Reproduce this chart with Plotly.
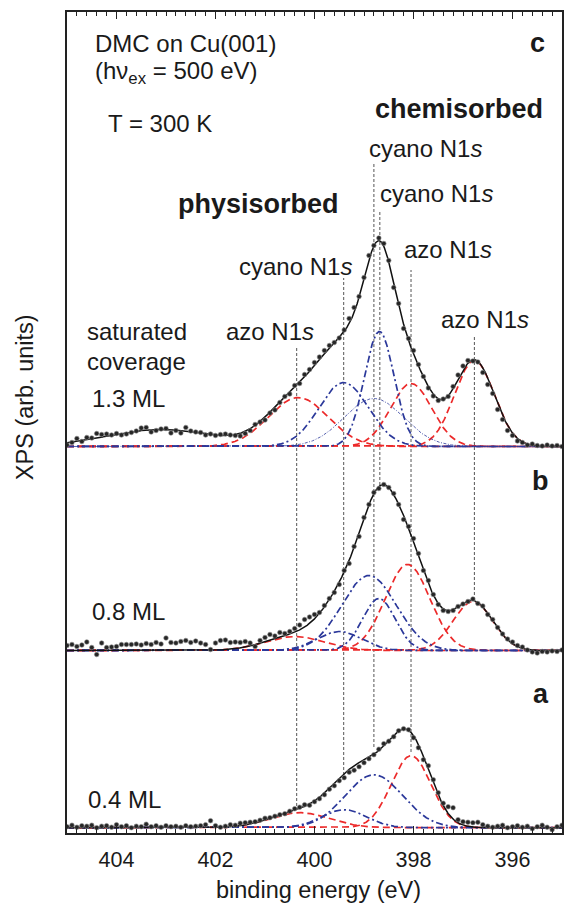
import numpy as np
import plotly.graph_objects as go

# ---------------- data ----------------
# binding energies of the measured points (eV), 0.1 eV steps
be_points = [round(405.0 - 0.1 * i, 1) for i in range(101)]

# measured intensities (arb. units) above each spectrum's baseline
xps_c = [1.5, 4.0, 8.0, 5.0, 9.0, 8.5, 13.0, 12.0, 12.5, 11.5,
         13.0, 11.5, 12.5, 14.0, 15.5, 18.5, 19.0, 14.5, 16.0, 17.5,
         18.0, 13.5, 16.0, 13.5, 19.0, 15.5, 14.5, 14.0, 11.5, 12.5,
         11.0, 12.0, 12.5, 11.5, 11.0, 10.5, 13.0, 16.0, 22.0, 24.5,
         26.5, 33.5, 36.5, 44.0, 50.0, 52.5, 61.0, 63.0, 72.0, 77.0,
         84.0, 89.5, 96.0, 101.0, 104.0, 108.5, 116.5, 128.0, 139.0, 150.0,
         169.0, 191.0, 201.0, 208.5, 203.0, 186.0, 159.0, 143.0, 118.0, 108.0,
         96.0, 82.0, 70.0, 58.5, 50.5, 46.0, 47.5, 50.0, 60.0, 71.5,
         80.5, 86.0, 85.5, 84.5, 74.0, 62.0, 53.0, 37.0, 27.0, 16.0,
         11.0, 5.5, 4.0, 1.5, 2.5, 1.0, 0.5, 1.5, 0.5, 1.0,
         0.0]
xps_b = [5.0, 6.0, 4.0, 5.5, 8.5, 3.0, -4.0, 7.5, 3.0, 3.5,
         4.0, 6.0, 6.0, 6.0, 6.5, 5.5, 7.0, 6.0, 8.0, 6.5,
         12.5, 8.0, 7.5, 9.0, 10.0, 8.0, 9.5, 7.5, 6.0, 1.0,
         7.5, 10.0, 10.5, 8.0, 8.5, 8.0, 9.0, 7.5, 4.0, 10.0,
         13.0, 16.0, 14.5, 18.0, 17.0, 19.0, 22.0, 25.5, 31.0, 33.5,
         36.0, 38.0, 45.0, 52.0, 58.0, 66.0, 80.0, 87.0, 104.0, 114.0,
         133.0, 146.0, 158.0, 162.0, 166.0, 163.0, 157.0, 146.0, 131.0, 124.0,
         112.0, 97.0, 80.0, 70.0, 56.0, 46.0, 40.0, 39.0, 40.0, 44.0,
         46.5, 49.0, 51.5, 47.0, 44.5, 36.0, 31.0, 23.0, 16.5, 11.5,
         8.5, 5.0, 3.5, 0.5, -1.5, -2.5, -1.0, -1.5, -0.5, -1.0,
         0.5]
xps_a = [1.0, 2.5, 0.5, 2.0, 1.5, 2.5, 0.0, 1.5, 2.0, 0.5,
         3.0, 1.0, 2.0, 0.0, 1.5, 1.0, 3.5, 1.0, 2.0, 0.5,
         2.0, 1.0, 1.5, 0.5, 2.0, 1.0, 1.5, 2.0, 3.0, 7.0,
         2.0, 0.5, 1.5, 3.0, 2.5, 4.5, 5.0, 5.5, 6.0, 7.5,
         9.5, 10.0, 11.5, 13.0, 14.0, 16.5, 19.0, 20.5, 23.0, 22.5,
         26.0, 29.0, 33.0, 38.5, 42.0, 47.0, 50.0, 55.5, 57.5, 61.0,
         65.0, 69.0, 73.0, 78.5, 84.0, 86.5, 91.0, 97.0, 99.0, 98.0,
         90.0, 80.0, 68.0, 62.0, 48.0, 35.0, 24.5, 21.0, 20.0, 8.0,
         6.0, 5.5, 5.0, 5.5, 3.0, 1.5, 0.5, 1.5, 2.5, 0.0,
         1.0, 2.0, 0.5, 1.5, -1.0, 1.0, 2.5, 0.5, -2.0, 1.0,
         2.5]

# fitted peak components: centre (eV), height, gaussian sigma (eV), species
c_centers = [400.33, 399.41, 398.69, 398.80, 398.05, 396.77]
c_heights = [49, 64, 115, 48, 63, 86]
c_sigmas = [0.60, 0.50, 0.30, 0.60, 0.42, 0.40]
c_kinds = ["azo", "cyano", "cyano", "cyano_thin", "azo", "azo"]
c_background = [403.1, 17, 1.1]   # broad background included in the total fit only

b_centers = [400.40, 399.50, 398.90, 398.70, 398.12, 396.80]
b_heights = [14, 19, 75, 52, 86, 49]
b_sigmas = [0.60, 0.45, 0.55, 0.33, 0.45, 0.40]
b_kinds = ["azo", "cyano", "cyano", "cyano", "azo", "azo"]

a_centers = [400.30, 399.40, 398.80, 398.05]
a_heights = [15, 18, 53, 72]
a_sigmas = [0.60, 0.45, 0.58, 0.40]
a_kinds = ["azo", "cyano", "cyano", "azo"]

# peak-position marker lines (eV)
marker_be = [400.36, 399.41, 398.80, 398.68, 398.05, 396.77]

coverage_labels = ["1.3 ML", "0.8 ML", "0.4 ML"]
panel_letters = ["c", "b", "a"]
tick_values = [404, 402, 400, 398, 396]

# ---------------- layout helpers (pixel geometry) ----------------
W, H = 565, 905
L, R, T, B = 67, 564, 12, 833
YMAX = B - T
offsets = {"c": B - 446.5, "b": B - 650.5, "a": B - 827.7}

def ypx(y):
    return B - y

def xp(x):
    return (x - L) / (R - L)

def yp(y):
    return (B - y) / (B - T)

RED = "#ec2a2a"
BLUE = "#2b389a"
FONT = "Liberation Sans, Arial, Helvetica, sans-serif"
styles = {
    "azo": dict(color=RED, width=1.7, dash="7px,4px"),
    "cyano": dict(color=BLUE, width=1.7, dash="7px,3px,2px,3px"),
    "cyano_thin": dict(color=BLUE, width=0.8, dash="3px,1.5px,1px,1.5px"),
}

xf = np.linspace(405.0, 395.0, 1001)

def gauss(x, c, h, s):
    return h * np.exp(-((x - c) ** 2) / (2 * s * s))

fig = go.Figure()

# marker lines (below everything)
line_extents = [(347, 806), (278, 780), (163, 747), (210, 485), (270, 752), (335, 600)]
for be, (ytop, ybot) in zip(marker_be, line_extents):
    fig.add_shape(type="line", xref="x", yref="y", x0=be, x1=be, y0=ypx(ybot), y1=ypx(ytop),
                  line=dict(color="#555555", width=1, dash="3px,2px"), layer="below")

panels = [
    ("c", xps_c, c_centers, c_heights, c_sigmas, c_kinds, c_background),
    ("b", xps_b, b_centers, b_heights, b_sigmas, b_kinds, None),
    ("a", xps_a, a_centers, a_heights, a_sigmas, a_kinds, None),
]

for name, data, cen, hei, sig, kinds, bg in panels:
    off = offsets[name]
    total = np.zeros_like(xf)
    comps = []
    for c, h, s, k in zip(cen, hei, sig, kinds):
        g = gauss(xf, c, h, s)
        total += g
        comps.append((g, k))
    if bg is not None:
        total += gauss(xf, *bg)
    # draw red first then blue (blue on top like reference)
    for g, k in comps:
        if k == "azo":
            fig.add_trace(go.Scatter(x=xf, y=g + off, mode="lines", line=styles[k],
                                     hoverinfo="skip", showlegend=False))
    for g, k in comps:
        if k != "azo":
            fig.add_trace(go.Scatter(x=xf, y=g + off, mode="lines", line=styles[k],
                                     hoverinfo="skip", showlegend=False))
    fig.add_trace(go.Scatter(x=xf, y=total + off, mode="lines",
                             line=dict(color="#111111", width=1.5),
                             hoverinfo="skip", showlegend=False))
    fig.add_trace(go.Scatter(x=be_points, y=[v + off for v in data], mode="markers",
                             marker=dict(size=4.6, color="#262626",
                                         line=dict(color="#8a8a8a", width=0.6)),
                             showlegend=False))

annotations = []

def ann(text, x, y, anchor="left", size=24, angle=0):
    annotations.append(dict(text=text, x=xp(x), y=yp(y), xref="paper", yref="paper",
                            xanchor=anchor, yanchor="middle", showarrow=False,
                            textangle=angle,
                            font=dict(family=FONT, size=size, color="#1a1a1a")))

ann("DMC on Cu(001)", 93, 43.3)
ann("(hν<sub>ex</sub> = 500 eV)", 93, 72.6)
ann("T = 300 K", 106, 123.6)
ann("<b>chemisorbed</b>", 547, 108.8, anchor="right", size=27)
ann("<b>physisorbed</b>", 176, 203.5, size=27)
ann("cyano N1<i>s</i>", 368, 148.3)
ann("cyano N1<i>s</i>", 379, 193.3)
ann("azo N1<i>s</i>", 403, 249.9)
ann("cyano N1<i>s</i>", 238, 266.6)
ann("azo N1<i>s</i>", 225, 331.6)
ann("azo N1<i>s</i>", 441, 319.9)
ann("saturated", 85, 331.6)
ann("coverage", 85, 361.6)
ann(coverage_labels[0], 90, 398.3)
ann(coverage_labels[1], 90, 611.6)
ann(coverage_labels[2], 86, 799.9)
ann("<b>%s</b>" % panel_letters[0], 549, 42.5, anchor="right", size=27)
ann("<b>%s</b>" % panel_letters[1], 553, 480.5, anchor="right", size=27)
ann("<b>%s</b>" % panel_letters[2], 553, 693.8, anchor="right", size=27)
ann("binding energy (eV)", 320, 890, anchor="center", size=23.5)
ann("XPS (arb. units)", 25, 397, anchor="center", size=23.5, angle=-90)

fig.update_layout(
    width=W, height=H,
    margin=dict(l=L, r=W - R, t=T, b=H - B),
    paper_bgcolor="white", plot_bgcolor="white",
    showlegend=False,
    annotations=annotations,
    font=dict(family=FONT, size=21.5, color="#1a1a1a"),
)
fig.update_xaxes(range=[405, 395], showgrid=False, zeroline=False,
                 showline=True, linecolor="#222222", linewidth=1.6, mirror="ticks",
                 ticks="inside", ticklen=7, tickwidth=1.2, tickcolor="#222222",
                 tickvals=tick_values, ticklabelstandoff=6,
                 tickfont=dict(family=FONT, size=21.5, color="#1a1a1a"),
                 minor=dict(dtick=0.2, ticks="inside", ticklen=4, tickwidth=1, tickcolor="#222222"))
fig.update_yaxes(range=[0, YMAX], showgrid=False, zeroline=False, showticklabels=False,
                 showline=True, linecolor="#222222", linewidth=1.6, mirror=True, ticks="")

fig.write_html("out.html")
